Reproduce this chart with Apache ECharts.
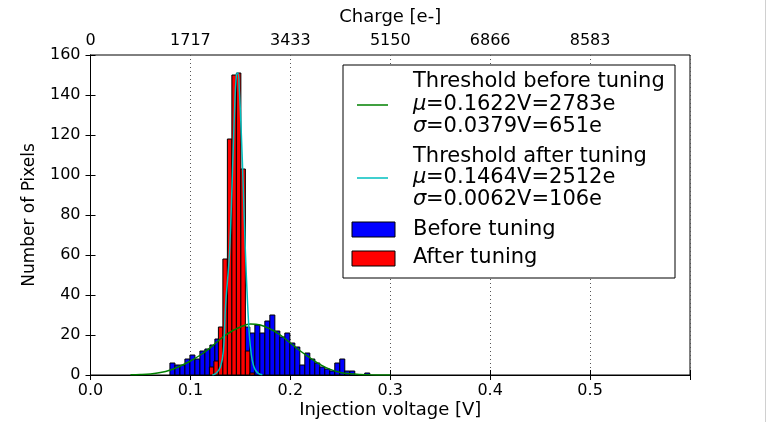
<!DOCTYPE html>
<html>
<head>
<meta charset="utf-8">
<script src="https://cdn.jsdelivr.net/npm/echarts@6/dist/echarts.min.js"></script>
<style>
html,body{margin:0;padding:0;background:#fff;}
#chart{width:767px;height:422px;}
</style>
</head>
<body>
<div id="chart"></div>
<script>
// ---- data ----
const xTickLabels = ['0.0', '0.1', '0.2', '0.3', '0.4', '0.5', ''];
const chargeTickLabels = ['0', '1717', '3433', '5150', '6866', '8583', ''];
const yTickLabels = ['0', '20', '40', '60', '80', '100', '120', '140', '160'];

// "Before tuning" histogram: bin left edges [V], bin width, counts
const beforeBinLeft = [0.0795,0.0845,0.0895,0.0945,0.0995,0.1045,0.1095,0.1145,0.1195,0.1245,
  0.1295,0.1345,0.1395,0.1445,0.1495,0.1545,0.1595,0.1645,0.1695,0.1745,
  0.1795,0.1845,0.1895,0.1945,0.1995,0.2045,0.2095,0.2145,0.2195,0.2245,
  0.2295,0.2345,0.2395,0.2445,0.2495,0.2545,0.2595,0.2645,0.2695,0.2745];
const beforeBinWidth = 0.005;
const beforeCounts = [6,5,5,8,10,8,12,13,15,18,
  21,22,23,24,24,24,21,25,21,27,
  30,22,19,21,16,14,5,11,8,6,
  4,3,2,6,8,2,2,0,0,1];

// "After tuning" histogram
const afterBinLeft = [0.119,0.1235,0.128,0.1325,0.137,0.1415,0.146,0.1505,0.155,0.1595];
const afterBinWidth = 0.0045;
const afterCounts = [4,7,24,58,118,150,151,103,12,1];

// fitted curves [V, count]
const fitBeforeX = [0.040,0.050,0.060,0.070,0.080,0.090,0.100,0.110,0.120,0.130,0.140,0.150,0.160,0.170,0.180,0.190,0.200,0.210,0.220,0.230,0.240,0.250,0.260,0.270,0.280,0.300];
const fitBeforeY = [0.1,0.2,0.5,1.2,2.5,4.5,7,10,13.7,18,21.5,24,25.5,25,23,20,16,12,8.5,5.2,2.8,1.3,0.6,0.25,0.1,0];
const fitAfterX = [0.122,0.126,0.130,0.133,0.1352,0.139,0.142,0.144,0.146,0.1475,0.149,0.151,0.153,0.155,0.157,0.159,0.161,0.163,0.165,0.168,0.172];
const fitAfterY = [0,1,4,12,35,60,100,130,150,151,142,120,92,62,38,20,10,5,2.5,0.8,0.1];

// legend entries
const legendLines = [
  ['', 'Threshold before tuning'],
  ['μ', '=0.1622V=2783e'],
  ['σ', '=0.0379V=651e'],
  ['', 'Threshold after tuning'],
  ['μ', '=0.1464V=2512e'],
  ['σ', '=0.0062V=106e'],
  ['', 'Before tuning'],
  ['', 'After tuning']
];

// ---- chart ----
const FONT = 'DejaVu Sans';
const chart = echarts.init(document.getElementById('chart'), null, {renderer: 'canvas'});

function histData(lefts, w, counts) {
  const out = [];
  for (let i = 0; i < lefts.length; i++) {
    if (counts[i] > 0) out.push([lefts[i], lefts[i] + w, counts[i]]);
  }
  return out;
}
function histRender(color) {
  return function (params, api) {
    const p0 = api.coord([api.value(0), api.value(2)]);
    const p1 = api.coord([api.value(1), 0]);
    return {
      type: 'rect',
      shape: {x: p0[0], y: p0[1], width: p1[0] - p0[0], height: p1[1] - p0[1]},
      style: {fill: color, stroke: '#000', lineWidth: 1}
    };
  };
}
function pairs(xs, ys) { return xs.map((x, i) => [x, ys[i]]); }

const axisLineStyle = {color: '#000', width: 1};
const legendX = 413;
const LF = 21;
const lineYs = [82, 105, 127, 157, 178, 200, 230, 258];
const legendGraphics = [];
legendLines.forEach((ln, i) => {
  let x = legendX;
  if (ln[0]) {
    legendGraphics.push({type: 'text', x: x, y: lineYs[i], z: 101,
      style: {text: ln[0], fontFamily: 'DejaVu Sans', fontStyle: 'oblique', fontSize: LF, fill: '#000', verticalAlign: 'middle'}});
    x += echarts.format.getTextRect ? 0 : 0;
    x += 13;
  }
  legendGraphics.push({type: 'text', x: x, y: lineYs[i], z: 101,
    style: {text: ln[1], fontFamily: FONT, fontSize: LF, fill: '#000', verticalAlign: 'middle'}});
});

const option = {
  animation: false,
  backgroundColor: '#fff',
  grid: {left: 90.5, right: 77, top: 55, bottom: 47, show: true, borderColor: '#000', borderWidth: 1,
    backgroundColor: 'transparent', containLabel: false, outerBoundsMode: 'none'},
  xAxis: [
    {
      type: 'value', min: 0, max: 0.6, interval: 0.1, position: 'bottom',
      name: 'Injection voltage [V]', nameLocation: 'middle', nameGap: 26, nameMoveOverlap: false,
      nameTextStyle: {fontFamily: FONT, fontSize: 18, color: '#000'},
      axisLine: {show: true, lineStyle: axisLineStyle},
      axisTick: {show: true, inside: true, length: 5, lineStyle: axisLineStyle},
      axisLabel: {fontFamily: FONT, fontSize: 16, color: '#000', margin: 8,
        formatter: (v) => xTickLabels[Math.round(v * 10)] || ''},
      splitLine: {show: true, lineStyle: {color: '#555', type: [1, 3], width: 1}}
    },
    {
      type: 'value', min: 0, max: 0.6, interval: 0.1, position: 'top',
      name: 'Charge [e-]', nameLocation: 'middle', nameGap: 29, nameMoveOverlap: false,
      nameTextStyle: {fontFamily: FONT, fontSize: 18, color: '#000'},
      axisLine: {show: true, lineStyle: axisLineStyle},
      axisTick: {show: true, inside: true, length: 5, lineStyle: axisLineStyle},
      axisLabel: {fontFamily: FONT, fontSize: 16, color: '#000', margin: 6,
        formatter: (v) => chargeTickLabels[Math.round(v * 10)] || ''},
      splitLine: {show: false}
    }
  ],
  yAxis: [
    {
      type: 'value', min: 0, max: 160, interval: 20, position: 'left',
      name: 'Number of Pixels', nameLocation: 'middle', nameGap: 52, nameRotate: 90, nameMoveOverlap: false,
      nameTextStyle: {fontFamily: FONT, fontSize: 17, color: '#000'},
      axisLine: {show: true, lineStyle: axisLineStyle},
      axisTick: {show: true, inside: true, length: 5, lineStyle: axisLineStyle},
      axisLabel: {fontFamily: FONT, fontSize: 16, color: '#000', margin: 10,
        formatter: (v) => yTickLabels[Math.round(v / 20)]},
      splitLine: {show: false}
    },
    {
      type: 'value', min: 0, max: 160, interval: 20, position: 'right',
      axisLine: {show: true, lineStyle: axisLineStyle},
      axisTick: {show: true, inside: true, length: 5, lineStyle: axisLineStyle},
      axisLabel: {show: false},
      splitLine: {show: false}
    }
  ],
  series: [
    {
      name: 'Before tuning', type: 'custom', xAxisIndex: 0, yAxisIndex: 0,
      renderItem: histRender('#0000ff'), encode: {x: [0, 1], y: 2},
      data: histData(beforeBinLeft, beforeBinWidth, beforeCounts), z: 2
    },
    {
      name: 'After tuning', type: 'custom', xAxisIndex: 0, yAxisIndex: 0,
      renderItem: histRender('#ff0000'), encode: {x: [0, 1], y: 2},
      data: histData(afterBinLeft, afterBinWidth, afterCounts), z: 3
    },
    {
      name: 'Threshold before tuning', type: 'line', smooth: 0.4, symbol: 'none',
      lineStyle: {color: '#008000', width: 1.5}, data: pairs(fitBeforeX, fitBeforeY), z: 4
    },
    {
      name: 'Threshold after tuning', type: 'line', smooth: 0.4, symbol: 'none',
      lineStyle: {color: '#00bfbf', width: 1.5}, data: pairs(fitAfterX, fitAfterY), z: 5
    }
  ],
  graphic: [
    {type: 'rect', shape: {x: 343, y: 65, width: 332, height: 213}, style: {fill: '#fff', stroke: '#000', lineWidth: 1}, z: 100},
    {type: 'line', shape: {x1: 357, y1: 105, x2: 388, y2: 105}, style: {stroke: '#008000', lineWidth: 1.5}, z: 101},
    {type: 'line', shape: {x1: 357, y1: 178, x2: 388, y2: 178}, style: {stroke: '#00bfbf', lineWidth: 1.5}, z: 101},
    {type: 'rect', shape: {x: 352, y: 222, width: 43, height: 15}, style: {fill: '#0000ff', stroke: '#000', lineWidth: 1}, z: 101},
    {type: 'rect', shape: {x: 352, y: 251, width: 43, height: 15}, style: {fill: '#ff0000', stroke: '#000', lineWidth: 1}, z: 101}
  ].concat(legendGraphics).concat([
    {type: 'line', shape: {x1: 765.5, y1: 0, x2: 765.5, y2: 422}, style: {stroke: '#d0d0d0', lineWidth: 1}, z: 101}
  ])
};
chart.setOption(option);
</script>
</body>
</html>
